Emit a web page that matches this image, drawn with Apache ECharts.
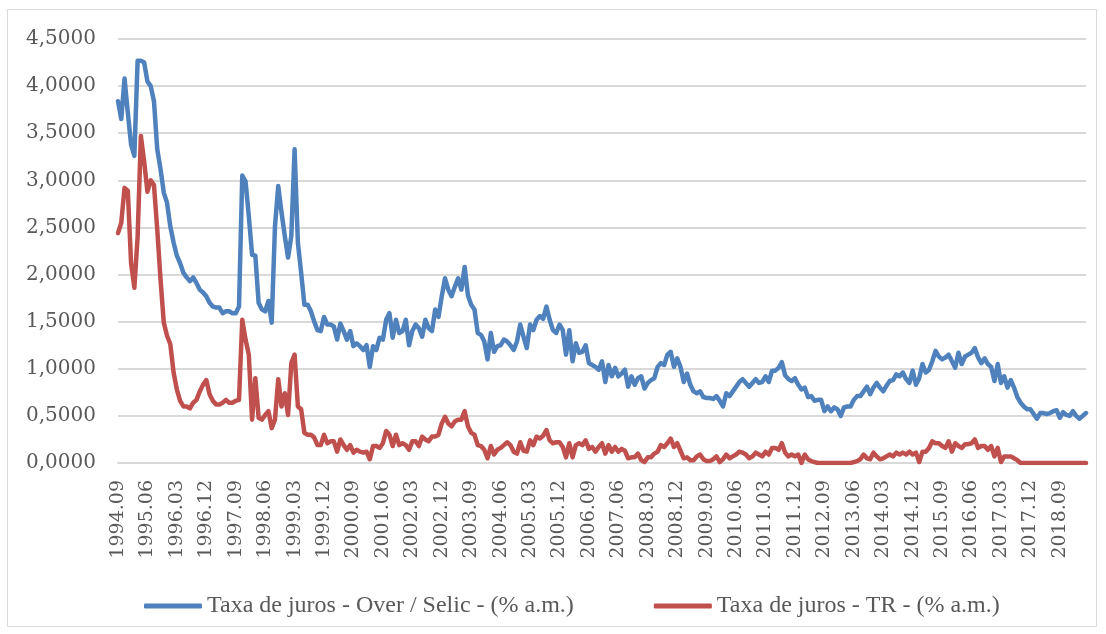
<!DOCTYPE html>
<html>
<head>
<meta charset="utf-8">
<script src="https://cdn.jsdelivr.net/npm/echarts@6/dist/echarts.min.js"></script>
<style>
  html, body { margin: 0; padding: 0; background: #fff; }
  #main { width: 1106px; height: 634px; }
</style>
</head>
<body>
<div id="main"></div>
<script>
// monthly, 1994.09 .. 2019.05
var startYear = 1994, startMonth = 9, nMonths = 297;

var selic = [
  3.84, 3.65, 4.08, 3.72, 3.38, 3.26, 4.27, 4.27, 4.25, 4.05,
  4.00, 3.84, 3.33, 3.12, 2.87, 2.76, 2.51, 2.34, 2.20, 2.12,
  2.02, 1.97, 1.93, 1.97, 1.91, 1.84, 1.81, 1.77, 1.70, 1.66,
  1.65, 1.65, 1.59, 1.61, 1.61, 1.59, 1.59, 1.66, 3.05, 2.99,
  2.62, 2.21, 2.20, 1.70, 1.63, 1.61, 1.72, 1.49, 2.51, 2.94,
  2.66, 2.41, 2.18, 2.41, 3.33, 2.34, 2.02, 1.68, 1.68,
  1.61, 1.50, 1.41, 1.40, 1.55, 1.47, 1.47, 1.45, 1.31, 1.48,
  1.40, 1.31, 1.40, 1.24, 1.27, 1.24, 1.20, 1.25, 1.02, 1.24,
  1.20, 1.33, 1.31, 1.52, 1.59, 1.33, 1.52, 1.38, 1.40, 1.52,
  1.25, 1.40, 1.47, 1.43, 1.34, 1.52, 1.43, 1.40, 1.63, 1.55,
  1.77, 1.96, 1.84, 1.77, 1.87, 1.96, 1.84, 2.08, 1.78, 1.68,
  1.63, 1.38, 1.36, 1.29, 1.10, 1.38, 1.18, 1.24, 1.25, 1.31,
  1.29, 1.25, 1.20, 1.29, 1.47, 1.34, 1.22, 1.47, 1.41, 1.52,
  1.56, 1.53, 1.66, 1.52, 1.41, 1.38, 1.47, 1.41, 1.15, 1.41,
  1.08, 1.27, 1.17, 1.18, 1.25, 1.06, 1.04, 1.02, 0.99, 1.08,
  0.86, 1.04, 0.92, 1.01, 0.92, 0.95, 0.99, 0.81, 0.92, 0.83,
  0.90, 0.92, 0.79, 0.85, 0.88, 0.90, 1.02, 1.06, 1.04, 1.15,
  1.18, 1.02, 1.11, 1.02, 0.86, 0.95, 0.83, 0.76, 0.74,
  0.76, 0.70, 0.69, 0.69, 0.68, 0.71, 0.66, 0.60, 0.74, 0.71,
  0.76, 0.81, 0.86, 0.89, 0.85, 0.81, 0.85, 0.89, 0.85, 0.86,
  0.92, 0.86, 0.98, 0.98, 1.01, 1.07, 0.93, 0.89, 0.87, 0.90,
  0.83, 0.78, 0.80, 0.70, 0.71, 0.66, 0.67, 0.67, 0.55, 0.60,
  0.55, 0.59, 0.57, 0.50, 0.59, 0.60, 0.60, 0.67, 0.71, 0.71,
  0.76, 0.81, 0.73, 0.80, 0.85, 0.80, 0.76, 0.82, 0.87,
  0.88, 0.94, 0.92, 0.96, 0.89, 0.85, 0.98, 0.83, 0.90, 1.05,
  0.96, 0.99, 1.08, 1.19, 1.13, 1.10, 1.12, 1.15, 1.08, 1.01,
  1.17, 1.05, 1.13, 1.15, 1.17, 1.22, 1.12, 1.06, 1.11, 1.05,
  1.02, 0.87, 1.05, 0.85, 0.92, 0.80, 0.88, 0.80, 0.70, 0.64,
  0.60, 0.57, 0.57, 0.52, 0.47, 0.53, 0.53, 0.52, 0.53, 0.55,
  0.56, 0.48, 0.54, 0.51, 0.50, 0.55, 0.50, 0.47, 0.50, 0.53
];

var tr = [
  2.44, 2.55, 2.92, 2.89, 2.12, 1.86, 2.40, 3.47, 3.20, 2.88,
  3.00, 2.95, 2.48, 1.95, 1.49, 1.35, 1.26, 0.96, 0.78, 0.66,
  0.60, 0.60, 0.58, 0.64, 0.67, 0.76, 0.83, 0.88, 0.73, 0.66,
  0.62, 0.62, 0.64, 0.67, 0.64, 0.64, 0.66, 0.67, 1.52, 1.31,
  1.15, 0.46, 0.90, 0.48, 0.46, 0.51, 0.55, 0.37, 0.46, 0.89,
  0.60, 0.74, 0.51, 1.06, 1.15, 0.60, 0.57, 0.32, 0.30,
  0.30, 0.27, 0.19, 0.19, 0.30, 0.21, 0.23, 0.23, 0.12, 0.25,
  0.19, 0.14, 0.19, 0.11, 0.14, 0.12, 0.11, 0.12, 0.04, 0.18,
  0.18, 0.16, 0.21, 0.34, 0.30, 0.18, 0.30, 0.19, 0.21, 0.19,
  0.14, 0.23, 0.23, 0.18, 0.28, 0.25, 0.23, 0.28, 0.28, 0.30,
  0.42, 0.49, 0.42, 0.39, 0.44, 0.46, 0.46, 0.55, 0.39, 0.32,
  0.30, 0.19, 0.18, 0.14, 0.05, 0.18, 0.09, 0.14, 0.16, 0.19,
  0.22, 0.19, 0.12, 0.10, 0.22, 0.13, 0.12, 0.24, 0.19, 0.28,
  0.26, 0.29, 0.35, 0.24, 0.21, 0.22, 0.22, 0.17, 0.06, 0.21,
  0.06, 0.19, 0.21, 0.19, 0.24, 0.15, 0.17, 0.12, 0.17, 0.21,
  0.10, 0.19, 0.12, 0.17, 0.12, 0.15, 0.13, 0.05, 0.06, 0.06,
  0.10, 0.03, 0.01, 0.06, 0.06, 0.10, 0.12, 0.19, 0.17, 0.21,
  0.26, 0.17, 0.21, 0.13, 0.05, 0.06, 0.03, 0.03, 0.07,
  0.09, 0.04, 0.02, 0.02, 0.04, 0.07, 0.01, 0.04, 0.09, 0.05,
  0.07, 0.09, 0.12, 0.11, 0.09, 0.05, 0.07, 0.11, 0.09, 0.07,
  0.12, 0.09, 0.16, 0.16, 0.14, 0.21, 0.11, 0.07, 0.09, 0.07,
  0.09, 0.00, 0.09, 0.04, 0.02, 0.01, 0.00, 0.00, 0.00, 0.00,
  0.00, 0.00, 0.00, 0.00, 0.00, 0.00, 0.00, 0.01, 0.02, 0.04,
  0.09, 0.05, 0.04, 0.11, 0.07, 0.04, 0.05, 0.07, 0.09,
  0.07, 0.11, 0.09, 0.11, 0.09, 0.12, 0.09, 0.11, 0.01, 0.12,
  0.12, 0.16, 0.23, 0.21, 0.21, 0.18, 0.16, 0.23, 0.12, 0.21,
  0.18, 0.16, 0.20, 0.20, 0.21, 0.25, 0.16, 0.18, 0.18, 0.14,
  0.18, 0.07, 0.16, 0.01, 0.07, 0.07, 0.07, 0.05, 0.03, 0.00,
  0.00, 0.00, 0.00, 0.00, 0.00, 0.00, 0.00, 0.00, 0.00, 0.00,
  0.00, 0.00, 0.00, 0.00, 0.00, 0.00, 0.00, 0.00, 0.00, 0.00
];

var seriesNames = ['Taxa de juros - Over / Selic - (% a.m.)', 'Taxa de juros - TR - (% a.m.)'];

var months = [];
for (var k = 0; k < nMonths; k++) {
  var m = startMonth - 1 + k;
  var y = startYear + Math.floor(m / 12);
  var mm = (m % 12) + 1;
  months.push(y + '.' + (mm < 10 ? '0' + mm : mm));
}

var chart = echarts.init(document.getElementById('main'));

var labelColor = '#595959';
var gridColor = '#d9d9d9';

var option = {
  backgroundColor: '#fff',
  animation: false,
  graphic: [{
    type: 'rect',
    shape: { x: 7.5, y: 9.5, width: 1089, height: 617 },
    style: { fill: 'none', stroke: gridColor, lineWidth: 1 },
    silent: true
  }],
  grid: { left: 118, right: 20, top: 39, bottom: 171 },
  legend: {
    left: 139,
    top: 589,
    itemWidth: 58,
    itemHeight: 5,
    itemGap: 80,
    icon: 'roundRect',
    textStyle: { fontFamily: 'Liberation Serif', fontSize: 24, color: labelColor },
    data: seriesNames
  },
  xAxis: {
    type: 'category',
    data: months,
    boundaryGap: false,
    axisLine: { show: true, lineStyle: { color: gridColor, width: 2 } },
    axisTick: { show: false },
    axisLabel: {
      interval: 8,
      rotate: 90,
      margin: 17,
      color: labelColor,
      fontFamily: 'DejaVu Serif',
      fontSize: 19
    }
  },
  yAxis: {
    type: 'value',
    min: 0,
    max: 4.5,
    interval: 0.5,
    axisLine: { show: false },
    axisTick: { show: false },
    splitLine: { lineStyle: { color: gridColor, width: 2 } },
    axisLabel: {
      margin: 22,
      color: labelColor,
      fontFamily: 'DejaVu Serif',
      fontSize: 20,
      formatter: function (v) { return v.toFixed(4).replace('.', ','); }
    }
  },
  series: [{
    name: seriesNames[0],
    type: 'line',
    data: selic,
    showSymbol: false,
    symbol: 'none',
    itemStyle: { color: '#4F81BD' },
    lineStyle: { color: '#4F81BD', width: 4.5, cap: 'round', join: 'round' }
  }, {
    name: seriesNames[1],
    type: 'line',
    data: tr,
    showSymbol: false,
    symbol: 'none',
    itemStyle: { color: '#C0504D' },
    lineStyle: { color: '#C0504D', width: 4.5, cap: 'round', join: 'round' }
  }]
};

chart.setOption(option);
</script>
</body>
</html>
